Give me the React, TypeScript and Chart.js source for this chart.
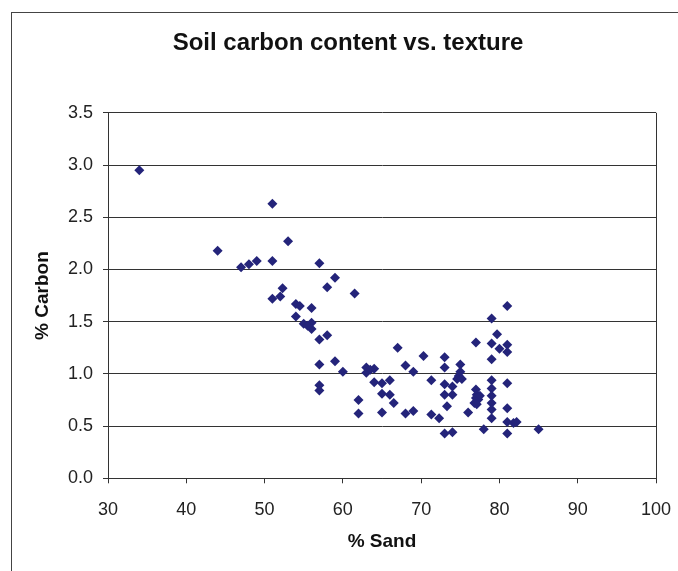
import React, { useEffect, useRef } from "react";
import { Chart, registerables } from "chart.js";

Chart.register(...registerables);

const sandPct: number[] = [
  34, 51, 44, 53, 47, 48, 49, 51, 57, 59, 58, 61.5,
  52.3, 51, 52, 54, 54.5, 56, 54, 55, 56, 56, 55.5, 58, 57, 67, 57, 59, 60,
  63, 64, 63, 63.5, 64, 65, 66, 57, 57, 65, 66, 66.5, 62, 62, 65,
  81, 79, 79.7, 77, 79, 81, 80, 81, 70.3, 73, 79, 68, 73, 75, 69, 75, 74.8,
  74.6, 75.2, 71.3, 79, 81, 73, 74, 79, 77, 77.1, 73, 74, 77, 77.3, 77.5,
  76.8, 77.1, 79, 79, 79, 79, 81, 73.3, 76, 68, 69, 71.3, 72.3, 81, 81.8,
  82.2, 78, 85, 73, 74, 81,
];

const carbonPct: number[] = [
  2.95, 2.63, 2.18, 2.27, 2.02, 2.05, 2.08, 2.08, 2.06, 1.92, 1.83, 1.77,
  1.82, 1.72, 1.74, 1.67, 1.65, 1.63, 1.55, 1.48, 1.49, 1.43, 1.46, 1.37, 1.33, 1.25, 1.09, 1.12, 1.02,
  1.06, 1.05, 1.01, 1.04, 0.92, 0.91, 0.94, 0.89, 0.84, 0.81, 0.8, 0.72, 0.75, 0.62, 0.63,
  1.65, 1.53, 1.38, 1.3, 1.29, 1.28, 1.24, 1.21, 1.17, 1.16, 1.14, 1.08, 1.06, 1.09, 1.02, 1.02, 0.98,
  0.95, 0.95, 0.94, 0.94, 0.91, 0.9, 0.88, 0.86, 0.85, 0.8, 0.8, 0.8, 0.77, 0.755, 0.79,
  0.72, 0.71, 0.79, 0.72, 0.66, 0.575, 0.67, 0.69, 0.63, 0.62, 0.645, 0.61, 0.575, 0.54, 0.53,
  0.54, 0.47, 0.47, 0.43, 0.44, 0.43,
];

const titleText = "Soil carbon content vs. texture";
const xTitle = "% Sand";
const yTitle = "% Carbon";

const FONT = "'Liberation Sans', Arial, sans-serif";

export default function App() {
  const ref = useRef<HTMLCanvasElement | null>(null);

  useEffect(() => {
    if (!ref.current) return;
    const points = sandPct.map((x, i) => ({ x, y: carbonPct[i] }));
    const chart = new Chart(ref.current, {
      type: "scatter",
      data: {
        datasets: [
          {
            data: points,
            pointStyle: "rectRot",
            pointRadius: 5,
            pointHoverRadius: 5,
            backgroundColor: "#24247a",
            borderWidth: 0,
          },
        ],
      },
      options: {
        animation: false,
        responsive: false,
        maintainAspectRatio: false,
        layout: { padding: { left: 40, right: 22, top: 0, bottom: 0 } },
        plugins: {
          legend: { display: false },
          tooltip: { enabled: false },
          title: {
            display: true,
            text: titleText,
            color: "#111",
            font: { family: FONT, size: 24, weight: "bold", lineHeight: 1.2 },
            padding: { top: 29, bottom: 55 },
          },
        },
        scales: {
          x: {
            type: "linear",
            min: 30,
            max: 100,
            ticks: {
              stepSize: 10,
              color: "#222",
              padding: 16,
              font: { family: FONT, size: 18 },
            },
            grid: {
              color: (ctx: any) =>
                ctx.tick && ctx.tick.value === 100 ? "#333" : "rgba(0,0,0,0)",
              tickColor: "#333",
              tickLength: 5,
              lineWidth: 1,
            },
            border: { display: true, color: "#333", width: 1 },
            title: {
              display: true,
              text: xTitle,
              color: "#111",
              font: { family: FONT, size: 19, weight: "bold", lineHeight: 1.2 },
              padding: { top: 0, bottom: 18 },
            },
            afterFit: (scale: any) => {
              scale.height = 92.7;
              scale.paddingLeft = 0;
              scale.paddingRight = 0;
            },
          },
          y: {
            type: "linear",
            min: 0,
            max: 3.5,
            ticks: {
              stepSize: 0.5,
              color: "#222",
              padding: 10,
              font: { family: FONT, size: 18 },
              callback: (v: any) => Number(v).toFixed(1),
            },
            grid: {
              color: "#333",
              tickColor: "#333",
              tickLength: 5,
              lineWidth: 1,
            },
            border: { display: true, color: "#333", width: 1 },
            title: {
              display: true,
              text: yTitle,
              color: "#111",
              font: { family: FONT, size: 19, weight: "bold", lineHeight: 0.316 },
              padding: { top: 0, bottom: 0 },
            },
            afterFit: (scale: any) => {
              scale.width = 68;
            },
          },
        },
      },
    });
    return () => chart.destroy();
  }, []);

  return (
    <div>
      <div
        style={{
          position: "fixed",
          left: 11,
          top: 12,
          width: 720,
          height: 620,
          border: "1px solid #444",
          boxSizing: "border-box",
        }}
      />
      <canvas
        ref={ref}
        width={678}
        height={571}
        style={{ position: "fixed", left: 0, top: 0, width: 678, height: 571 }}
      />
    </div>
  );
}
